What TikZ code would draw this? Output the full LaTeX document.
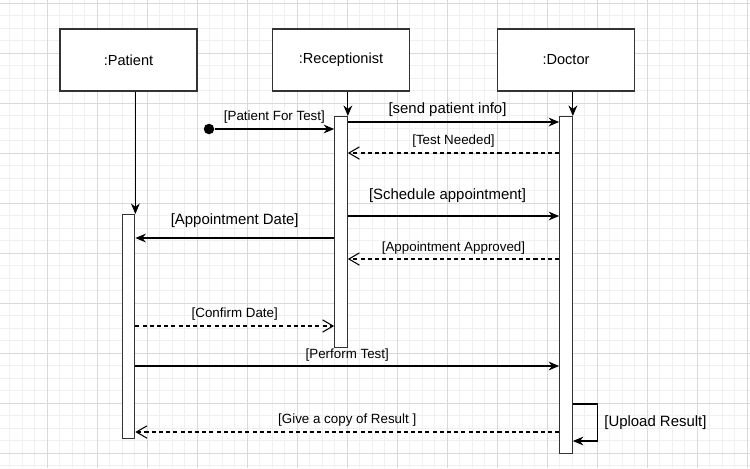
\documentclass[tikz,border=0pt]{standalone}
\usepackage{fontspec}
\setmainfont{Liberation Sans}
\usetikzlibrary{arrows.meta,positioning}

\tikzset{
  gridminor/.style={black!6, line width=0.55pt},
  gridmajor/.style={black!15, line width=0.55pt},
  actor/.style={draw=black!80, line width=0.7pt, fill=white, inner sep=0pt,
    minimum width=2.74cm, minimum height=1.24cm, font=\fontsize{8.3}{10}\selectfont},
  bar/.style={draw=black!80, line width=0.7pt, fill=white, inner sep=0pt,
    minimum width=0.25cm, anchor=north},
  msg/.style={line width=0.6pt, -{Stealth[length=6pt,width=5pt]}},
  reply/.style={line width=0.6pt, dash pattern=on 2.3pt off 1.8pt,
    -{Straight Barb[length=6pt,width=7pt]}},
  big/.style={inner sep=0pt, font=\fontsize{8.5}{10}\selectfont},
  small/.style={inner sep=0pt, font=\fontsize{7.6}{9}\selectfont},
}

\begin{document}
\begin{tikzpicture}[x=0.02cm, y=-0.02cm]
    \useasboundingbox[fill=white] (0,0) rectangle (750,468);
    % Grid
    \foreach \x in {9.8,22.3,...,750}
    \draw[gridminor] (\x,0) -- (\x,468);
    \foreach \y in {3.3,15.8,...,468}
    \draw[gridminor] (0,\y) -- (750,\y);
    \foreach \x in {47.3,97.3,...,750}
    \draw[gridmajor] (\x,0) -- (\x,468);
    \foreach \y in {3.3,53.3,...,468}
    \draw[gridmajor] (0,\y) -- (750,\y);

    % Lifeline heads
    \node[actor] (patient) at (128.5,60) {:Patient};
    \node[actor] (recept) at (341,60) {:Receptionist};
    \node[actor] (doctor) at (566,60) {:Doctor};

    % Activation bars
    \node[bar, minimum height=4.48cm] (pbar) at (128.5,214) {};
    \node[bar, minimum height=4.62cm] (rbar) at (341,116) {};
    \node[bar, minimum height=6.74cm] (dbar) at (566,116) {};

    % Lifelines
    \foreach \h/\b in {patient/pbar, recept/rbar, doctor/dbar}
    \draw[msg] (\h.south -| \b.north east) -- (\b.north east);

    % Messages
    \node[circle, fill, inner sep=0pt, minimum size=0.21cm] (init) at (209,129) {};
    \draw[msg] (init) -- (init -| rbar.west)
    node[midway, above=3.1pt, small] {[Patient For Test]};
    \draw[msg] (rbar.east |- 0,122) -- (dbar.west |- 0,122)
    node[midway, above=2.8pt, xshift=-0.12cm, big] {[send patient info]};
    \draw[reply] (dbar.west |- 0,153) -- (rbar.east |- 0,153)
    node[midway, above=3pt, small] {[Test Needed]};
    \draw[msg] (rbar.east |- 0,216) -- (dbar.west |- 0,216)
    node[midway, above=7.4pt, xshift=-0.12cm, big] {[Schedule appointment]};
    \draw[msg] (rbar.west |- 0,238) -- (pbar.east |- 0,238)
    node[midway, above=5.9pt, big] {[Appointment Date]};
    \draw[reply] (dbar.west |- 0,259) -- (rbar.east |- 0,259)
    node[midway, above=2.3pt, small] {[Appointment Approved]};
    \draw[reply] (pbar.east |- 0,326) -- (rbar.west |- 0,326)
    node[midway, above=2.7pt, small] {[Confirm Date]};
    \draw[msg] (pbar.east |- 0,366) -- (dbar.west |- 0,366)
    node[midway, above=2.4pt, small] {[Perform Test]};
    % self call
    \draw[msg] (dbar.east |- 0,404) -- ++(25,0) -- ++(0,37)
    node[midway, right=3.4pt, big] {[Upload Result]} -- ++(-25,0);
    \draw[reply] (dbar.west |- 0,432) -- (pbar.east |- 0,432)
    node[midway, above=2.8pt, small] {[Give a copy of Result ]};
\end{tikzpicture}
\end{document}
